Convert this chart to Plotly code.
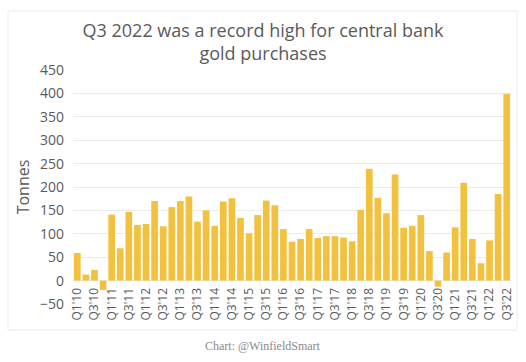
import plotly.graph_objects as go

years = list(range(10, 23))
quarters = [f"Q{q}'{y:02d}" for y in years for q in range(1, 5)][:51]
values = [59, 13, 23, -20,
          141, 69, 147, 119,
          121, 170, 116, 157,
          170, 180, 126, 150,
          117, 169, 176, 134,
          101, 140, 171, 161,
          110, 83, 89, 110,
          91, 95, 95, 92,
          84, 151, 239, 177,
          144, 227, 113, 117,
          140, 63, -13, 60,
          114, 209, 89, 37,
          86, 185, 399]
tick_labels = [q for q in quarters if q.startswith("Q1") or q.startswith("Q3")]
y_ticks = list(range(-50, 451, 50))

title_text = "Q3 2022 was a record high for central bank<br>gold purchases"
credit_text = "Chart: @WinfieldSmart"

FONT = "Open Sans"
GRAY = "#5a5a5a"

fig = go.Figure(go.Bar(x=quarters, y=values, marker_color="#F2C23F",
                       marker_line_width=0))

L, R, T, B = 73, 15, 70, 58
W, H = 526, 362
pw, ph = W - L - R, H - T - B

def px_x(px):
    return (px - L) / pw

def px_y(py):
    return (H - B - py) / ph

fig.update_layout(
    width=W, height=H,
    margin=dict(l=L, r=R, t=T, b=B),
    paper_bgcolor="white", plot_bgcolor="white",
    bargap=0.22,
    showlegend=False,
    font=dict(family=FONT, color=GRAY),
    title=dict(text=title_text, x=0.5, xanchor="center", y=1 - 37 / H, yanchor="middle",
               font=dict(size=18, color=GRAY, family=FONT)),
    xaxis=dict(type="category", tickmode="array", tickvals=tick_labels, ticktext=tick_labels,
               tickangle=-90, tickfont=dict(size=12, color=GRAY), showgrid=False,
               showline=False, ticks="", anchor="free", position=50 / 500,
               ticklabelstandoff=4),
    yaxis=dict(range=[-50, 450], tickvals=y_ticks, tickfont=dict(size=14, color=GRAY),
               showgrid=True, gridcolor="#ececec", gridwidth=1, zeroline=False,
               ticklabelstandoff=8,
               title=dict(text="Tonnes", font=dict(size=16, color=GRAY), standoff=6)),
    shapes=[dict(type="rect", xref="paper", yref="paper",
                 x0=px_x(8), x1=px_x(517), y0=px_y(330), y1=px_y(11),
                 line=dict(color="#ececec", width=1), fillcolor="rgba(0,0,0,0)", layer="below")],
    annotations=[dict(text=credit_text, xref="paper", yref="paper",
                      x=px_x(263), y=px_y(346), xanchor="center", yanchor="middle",
                      showarrow=False, font=dict(family="Liberation Serif", size=12, color="#8a8a8a"))],
)

fig.write_html("out.html", config={"displayModeBar": False},
               post_script="document.body.style.margin='0';document.body.style.overflow='hidden';")
